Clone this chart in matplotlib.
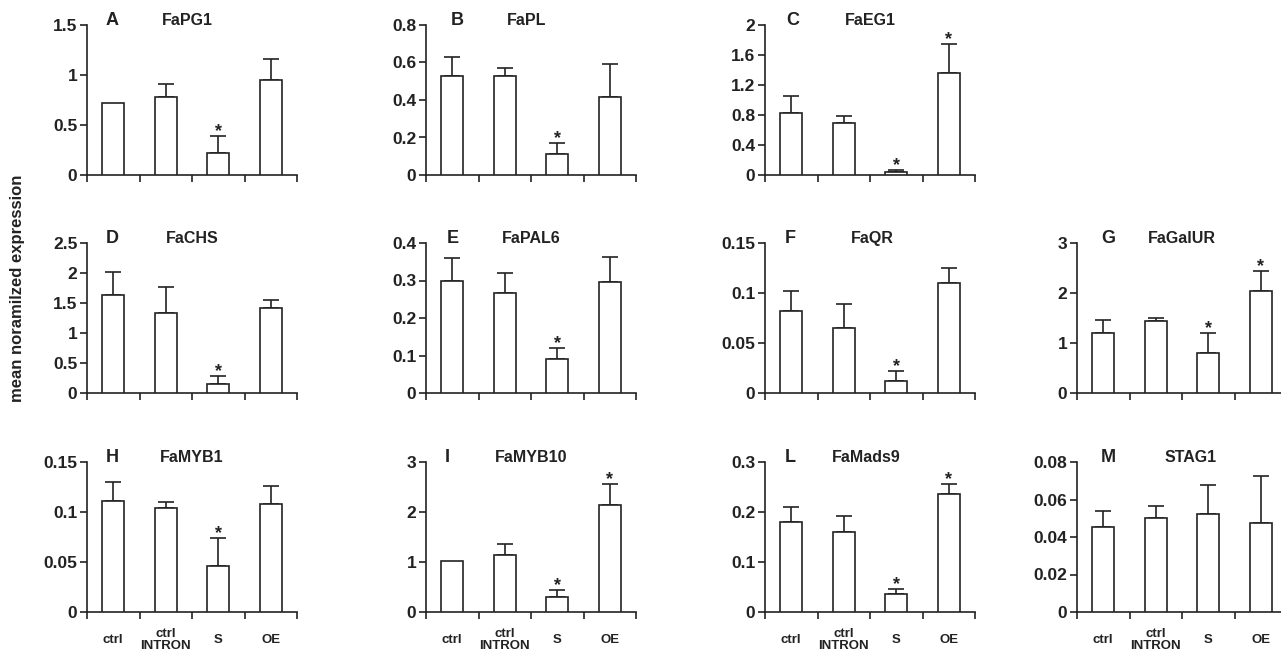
import matplotlib
matplotlib.use("Agg")
import matplotlib.pyplot as plt

plt.rcParams['font.family'] = ['Liberation Sans', 'DejaVu Sans']
plt.rcParams['font.weight'] = 'bold'

categories = ["ctrl", "ctrl\nINTRON", "S", "OE"]

letters = ["A", "B", "C", "D", "E", "F", "G", "H", "I", "L", "M"]
genes = ["FaPG1", "FaPL", "FaEG1", "FaCHS", "FaPAL6", "FaQR", "FaGalUR",
         "FaMYB1", "FaMYB10", "FaMads9", "STAG1"]

means_A = [0.72, 0.78, 0.215, 0.945]
errs_A = [0.0, 0.125, 0.175, 0.215]
stars_A = [False, False, True, False]

means_B = [0.53, 0.53, 0.11, 0.415]
errs_B = [0.10, 0.043, 0.059, 0.175]
stars_B = [False, False, True, False]

means_C = [0.82, 0.69, 0.04, 1.355]
errs_C = [0.23, 0.09, 0.027, 0.39]
stars_C = [False, False, True, True]

means_D = [1.635, 1.34, 0.145, 1.42]
errs_D = [0.385, 0.43, 0.14, 0.135]
stars_D = [False, False, True, False]

means_E = [0.300, 0.268, 0.092, 0.296]
errs_E = [0.059, 0.051, 0.027, 0.067]
stars_E = [False, False, True, False]

means_F = [0.082, 0.0655, 0.0117, 0.1105]
errs_F = [0.020, 0.0235, 0.010, 0.0148]
stars_F = [False, False, True, False]

means_G = [1.20, 1.44, 0.80, 2.04]
errs_G = [0.27, 0.07, 0.395, 0.40]
stars_G = [False, False, True, True]

means_H = [0.1115, 0.1045, 0.046, 0.1083]
errs_H = [0.0185, 0.0055, 0.0285, 0.0182]
stars_H = [False, False, True, False]

means_I = [1.03, 1.135, 0.297, 2.136]
errs_I = [0.0, 0.23, 0.138, 0.428]
stars_I = [False, False, True, True]

means_L = [0.180, 0.160, 0.0364, 0.236]
errs_L = [0.030, 0.033, 0.0093, 0.020]
stars_L = [False, False, True, True]

means_M = [0.0456, 0.0504, 0.0522, 0.0476]
errs_M = [0.0081, 0.0063, 0.0156, 0.0248]
stars_M = [False, False, False, False]

ylims = [1.5, 0.8, 2.0, 2.5, 0.4, 0.15, 3.0, 0.15, 3.0, 0.3, 0.08]
yticks = [[0, 0.5, 1, 1.5], [0, 0.2, 0.4, 0.6, 0.8], [0, 0.4, 0.8, 1.2, 1.6, 2],
          [0, 0.5, 1, 1.5, 2, 2.5], [0, 0.1, 0.2, 0.3, 0.4], [0, 0.05, 0.1, 0.15],
          [0, 1, 2, 3], [0, 0.05, 0.1, 0.15], [0, 1, 2, 3], [0, 0.1, 0.2, 0.3],
          [0, 0.02, 0.04, 0.06, 0.08]]
yticklabels = [["0", "0.5", "1", "1.5"], ["0", "0.2", "0.4", "0.6", "0.8"],
               ["0", "0.4", "0.8", "1.2", "1.6", "2"], ["0", "0.5", "1", "1.5", "2", "2.5"],
               ["0", "0.1", "0.2", "0.3", "0.4"], ["0", "0.05", "0.1", "0.15"],
               ["0", "1", "2", "3"], ["0", "0.05", "0.1", "0.15"], ["0", "1", "2", "3"],
               ["0", "0.1", "0.2", "0.3"], ["0", "0.02", "0.04", "0.06", "0.08"]]

all_means = [means_A, means_B, means_C, means_D, means_E, means_F, means_G,
             means_H, means_I, means_L, means_M]
all_errs = [errs_A, errs_B, errs_C, errs_D, errs_E, errs_F, errs_G,
            errs_H, errs_I, errs_L, errs_M]
all_stars = [stars_A, stars_B, stars_C, stars_D, stars_E, stars_F, stars_G,
             stars_H, stars_I, stars_L, stars_M]

# layout (axes-fraction x positions of panel letter and gene title)
letter_x = [0.12, 0.15, 0.13, 0.12, 0.13, 0.12, 0.15, 0.12, 0.10, 0.12, 0.15]
title_x = [0.48, 0.48, 0.50, 0.50, 0.50, 0.51, 0.50, 0.50, 0.50, 0.48, 0.54]

W, H = 1281, 659
fig = plt.figure(figsize=(W / 100, H / 100), dpi=100)
fig.patch.set_facecolor('white')

col_left = [87, 426, 765, 1077]
row_top = [25, 243, 462]
ax_w, ax_h = 210, 150
positions = [(0, 0), (0, 1), (0, 2),
             (1, 0), (1, 1), (1, 2), (1, 3),
             (2, 0), (2, 1), (2, 2), (2, 3)]

ink = '#222222'
xc = [0.5, 1.5, 2.5, 3.5]

for i, (r, c) in enumerate(positions):
    left = col_left[c] / W
    bottom = 1 - (row_top[r] + ax_h) / H
    ax = fig.add_axes([left, bottom, ax_w / W, ax_h / H])
    m = all_means[i]
    e = all_errs[i]
    ax.bar(xc, m, width=0.42, color='white', edgecolor=ink, linewidth=1.2, zorder=3)
    for x, mv, ev in zip(xc, m, e):
        if ev > 0:
            ax.errorbar([x], [mv], yerr=[[0], [ev]], fmt='none', ecolor=ink,
                        elinewidth=1.2, capsize=6, capthick=1.2, zorder=2)
    for x, mv, ev, s in zip(xc, m, e, all_stars[i]):
        if s:
            ax.annotate('*', xy=(x, mv + ev), xytext=(0, -3), textcoords='offset points',
                        ha='center', va='bottom', fontsize=13, fontweight='bold', color=ink)
    ax.set_xlim(0, 4)
    ax.set_ylim(0, ylims[i])
    for sp in ['top', 'right']:
        ax.spines[sp].set_visible(False)
    for sp in ['left', 'bottom']:
        ax.spines[sp].set_color(ink)
        ax.spines[sp].set_linewidth(1.2)
    ax.set_yticks(yticks[i])
    ax.set_yticklabels(yticklabels[i], fontsize=12.5, fontweight='bold', color=ink)
    ax.tick_params(axis='y', direction='out', length=5, width=1.2, color=ink, pad=2)
    ax.set_xticks([0, 1, 2, 3, 4])
    ax.set_xticklabels([])
    ax.tick_params(axis='x', which='major', direction='out', length=5, width=1.2, color=ink)
    if r == 2:
        ax.set_xticks(xc, minor=True)
        ax.set_xticklabels(categories, minor=True, fontsize=9.5, fontweight='bold',
                           color=ink, linespacing=1.0)
        ax.tick_params(axis='x', which='minor', length=0, pad=20)
        for lab in ax.get_xticklabels(minor=True):
            lab.set_verticalalignment('center')
    ax.text(letter_x[i], 1.03, letters[i], transform=ax.transAxes, ha='center', va='center',
            fontsize=13, fontweight='bold', color=ink)
    ax.text(title_x[i], 1.03, genes[i], transform=ax.transAxes, ha='center', va='center',
            fontsize=11.5, fontweight='bold', color=ink)
    ax.patch.set_alpha(0)

fig.text(18 / W, 1 - 288 / H, "mean noramilzed expression", rotation=90,
         ha='center', va='center', fontsize=12, fontweight='bold', color=ink)

fig.savefig("out.png", dpi=100, facecolor='white')
